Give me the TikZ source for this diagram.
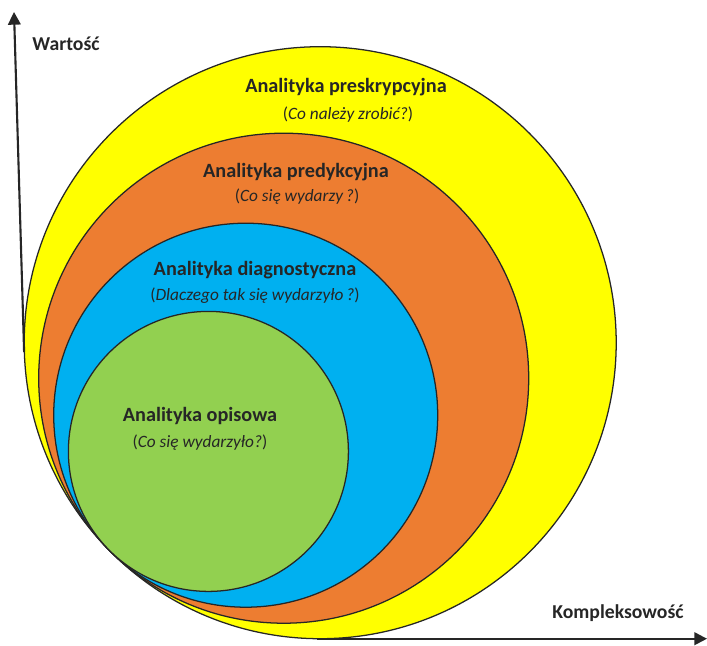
\documentclass[tikz,border=0pt]{standalone}
\usepackage{fontspec}
\setmainfont{Carlito}
\usetikzlibrary{arrows.meta}
\definecolor{ringyellow}{HTML}{FFFF00}
\definecolor{ringorange}{HTML}{ED7D31}
\definecolor{ringblue}{HTML}{00B0F0}
\definecolor{ringgreen}{HTML}{92D050}
\definecolor{inkdark}{HTML}{262626}
\begin{document}
\begin{tikzpicture}[x=0.025cm,y=-0.025cm,
  ring/.style={draw=inkdark,line width=0.9pt},
  headline/.style={font=\fontsize{14.4}{16}\selectfont\bfseries,text=inkdark,inner sep=0pt},
  question/.style={font=\fontsize{12.3}{14}\selectfont,text=inkdark,inner sep=0pt},
  axislabel/.style={font=\fontsize{14}{16}\selectfont\bfseries,text=inkdark,inner sep=0pt},
  axisline/.style={draw=inkdark,line width=1.5pt,-{Triangle[length=9pt,width=9pt]}}]
\useasboundingbox (0,0) rectangle (707,645);

% nested rings, all touching at the lower left
\filldraw[ring,fill=ringyellow] (320.2,342.7) circle (296);
\filldraw[ring,fill=ringorange] (283.7,378.2) circle (245);
\filldraw[ring,fill=ringblue]   (245.7,415.2) circle (192);
\filldraw[ring,fill=ringgreen]  (208.4,451.4) circle (140);

% ring captions
\node[headline] (presk) at (346,87) {Analityka preskrypcyjna};
\node[question] (preskq) at (348,115) {(\textit{Co należy zrobić?})};
\node[headline] (pred) at (296,172) {Analityka predykcyjna};
\node[question] (predq) at (297,197) {(\textit{Co się wydarzy\,?})};
\node[headline] (diag) at (255,270) {Analityka diagnostyczna};
\node[question] (diagq) at (255,296) {(\textit{Dlaczego tak się wydarzyło\,?})};
\node[headline] (opis) at (200,416) {Analityka opisowa};
\node[question] (opisq) at (200,443) {(\textit{Co się wydarzyło?})};

% axes
\coordinate (ybase) at (24.1,351.8);
\coordinate (ytip) at (14,12);
\coordinate (xbase) at (317,638.7);
\coordinate (xtip) at (707,638.7);
\draw[axisline] (ybase) -- (ytip);
\draw[axisline] (xbase) -- (xtip);
\node[axislabel] (ylab) at (66,44) {Wartość};
\node[axislabel] (xlab) at (618,613) {Kompleksowość};
\end{tikzpicture}
\end{document}
